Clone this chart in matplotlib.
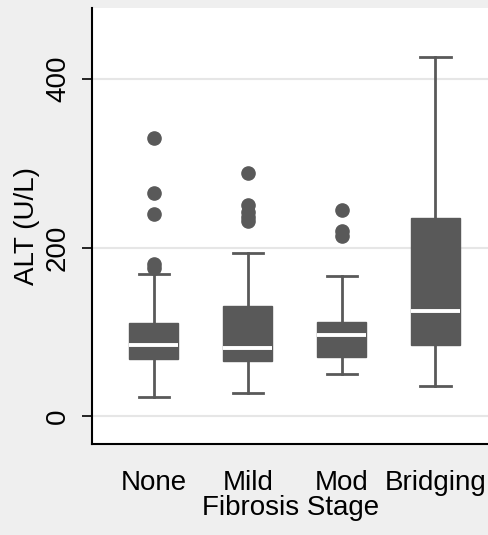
import numpy as np
import matplotlib.pyplot as plt

plt.rcParams['font.family'] = ['Liberation Sans', 'DejaVu Sans']

# ALT box-plot summaries per fibrosis stage
stages = ["None", "Mild", "Mod", "Bridging"]
whislo = [23, 28, 50, 36]
q1 = [68, 66, 70, 85]
med = [84, 81, 96, 125]
q3 = [111, 131, 112, 235]
whishi = [169, 193, 166, 426]
fliers = [
    [330, 265, 240, 181, 176],
    [288, 251, 242, 236, 231],
    [245, 220, 214],
    [],
]
yticks = [0, 200, 400]

grey = "#595959"

stats = []
for i in range(len(stages)):
    stats.append(dict(label=stages[i], whislo=whislo[i], q1=q1[i], med=med[i],
                      q3=q3[i], whishi=whishi[i], fliers=fliers[i]))

fig = plt.figure(figsize=(4.89, 5.35), dpi=100, facecolor="#efefef")
ax = fig.add_axes([0.188, 0.170, 0.812, 0.815])
ax.set_facecolor("white")

ax.bxp(stats, positions=[1, 2, 3, 4], widths=0.52, patch_artist=True,
       showfliers=True,
       boxprops=dict(facecolor=grey, edgecolor=grey, linewidth=1),
       whiskerprops=dict(color=grey, linewidth=2),
       capprops=dict(color=grey, linewidth=2),
       capwidths=0.32,
       medianprops=dict(color="white", linewidth=2.8),
       flierprops=dict(marker="o", markerfacecolor=grey, markeredgecolor=grey,
                       markersize=9.5))

ax.set_xlim(0.34, 4.57)
ax.set_ylim(-33, 484)
ax.set_yticks(yticks)
ax.set_yticklabels([str(t) for t in yticks], rotation=90, va="center", fontsize=20)
ax.yaxis.grid(True, color="#e6e6e6", linewidth=1.5)
ax.set_axisbelow(True)
ax.tick_params(axis="y", length=7, width=1.2, pad=8)
ax.tick_params(axis="x", length=0, pad=19, labelsize=20)

for s in ["top", "right"]:
    ax.spines[s].set_visible(False)
for s in ["left", "bottom"]:
    ax.spines[s].set_linewidth(1.5)

ax.set_ylabel("ALT (U/L)", fontsize=20, labelpad=4)
ax.set_xlabel("Fibrosis Stage", fontsize=20, labelpad=-1)

fig.savefig("out.png", dpi=100, facecolor=fig.get_facecolor())
